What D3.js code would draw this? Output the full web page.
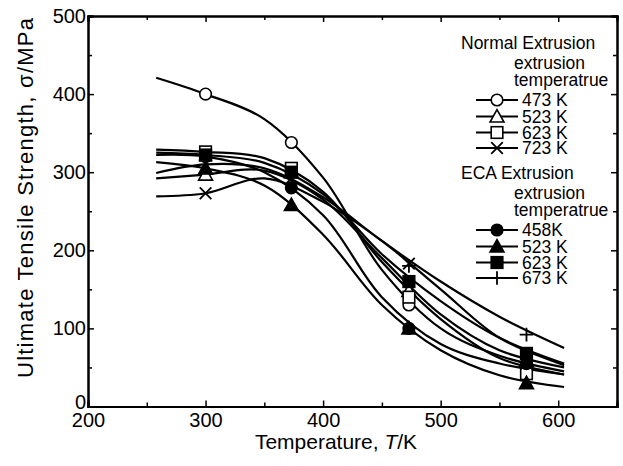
<!DOCTYPE html>
<html>
<head>
<meta charset="utf-8">
<script src="https://cdn.jsdelivr.net/npm/d3@7"></script>
<style>
  body { margin: 0; background: #fff; }
  text { font-family: "Liberation Sans", Arial, Helvetica, sans-serif; fill: #000; }
</style>
</head>
<body>
<svg id="chart" width="623" height="466"></svg>
<script>
// measured temperatures (K)
const temps = [300, 373, 473, 573];
const fitTemps = [258, 300, 350, 400, 450, 500, 550, 605];

// Normal extrusion, measured UTS (MPa)
const normal473 = [400, 338, 130, 55];
const normal523 = [297, 300, 148, 58];
const normal623 = [326, 305, 140, 42];
const normal723 = [273, 292, 183, 55];
// ECA extrusion, measured UTS (MPa)
const eca458 = [320, 280, 100, 55];
const eca523 = [305, 258, 100, 30];
const eca623 = [322, 300, 160, 68];
const eca673 = [315, 295, 180, 92];

// fitted curves
const normal473Fit = [421, 400, 368, 293, 175, 100, 65, 45];
const normal523Fit = [292, 297, 302, 265, 190, 118, 72, 50];
const normal623Fit = [329, 326, 318, 275, 185, 112, 62, 41];
const normal723Fit = [269, 273, 292, 262, 212, 150, 88, 53];
const eca458Fit = [322, 320, 300, 245, 140, 80, 55, 41];
const eca523Fit = [313, 305, 283, 220, 130, 72, 40, 25];
const eca623Fit = [325, 322, 312, 272, 195, 135, 88, 55];
const eca673Fit = [299, 310, 305, 268, 212, 160, 115, 75];

const labels = ["473 K", "523 K", "623 K", "723 K", "458K", "523 K", "623 K", "673 K"];
const xTicks = [200, 300, 400, 500, 600];
const yTicks = [0, 100, 200, 300, 400, 500];

const series = [
  {vals: normal473, fit: normal473Fit, sym: "circle", fill: false},
  {vals: normal523, fit: normal523Fit, sym: "triangle", fill: false},
  {vals: normal623, fit: normal623Fit, sym: "square", fill: false},
  {vals: normal723, fit: normal723Fit, sym: "cross", fill: false},
  {vals: eca458, fit: eca458Fit, sym: "circle", fill: true},
  {vals: eca523, fit: eca523Fit, sym: "triangle", fill: true},
  {vals: eca623, fit: eca623Fit, sym: "square", fill: true},
  {vals: eca673, fit: eca673Fit, sym: "plus", fill: true}
];

const svg = d3.select("#chart");
const x = d3.scaleLinear().domain([200, 650]).range([88, 617]);
const y = d3.scaleLinear().domain([0, 500]).range([406.5, 16]);

// curves
const line = d3.line()
  .x(d => x(d[0]))
  .y(d => y(d[1]))
  .curve(d3.curveCatmullRom.alpha(0.5));

svg.append("g").selectAll("path")
  .data(series)
  .join("path")
  .attr("d", s => line(fitTemps.map((t, i) => [t, s.fit[i]])))
  .attr("fill", "none")
  .attr("stroke", "#000")
  .attr("stroke-width", 2.2);

// marker drawing
function drawMarker(g, sym, filled, cx, cy) {
  const r = 5.8;
  if (sym === "circle") {
    g.append("circle").attr("cx", cx).attr("cy", cy).attr("r", r)
      .attr("fill", filled ? "#000" : "#fff").attr("stroke", "#000").attr("stroke-width", 1.6);
  } else if (sym === "square") {
    g.append("rect").attr("x", cx - r).attr("y", cy - r).attr("width", 2 * r).attr("height", 2 * r)
      .attr("fill", filled ? "#000" : "#fff").attr("stroke", "#000").attr("stroke-width", 1.6);
  } else if (sym === "triangle") {
    const h = r * 1.2;
    g.append("path")
      .attr("d", `M${cx},${cy - h}L${cx + h},${cy + h * 0.8}L${cx - h},${cy + h * 0.8}Z`)
      .attr("fill", filled ? "#000" : "#fff").attr("stroke", "#000").attr("stroke-width", 1.6);
  } else if (sym === "cross") {
    g.append("path")
      .attr("d", `M${cx - r},${cy - r}L${cx + r},${cy + r}M${cx - r},${cy + r}L${cx + r},${cy - r}`)
      .attr("stroke", "#000").attr("stroke-width", 1.8);
  } else if (sym === "plus") {
    g.append("path")
      .attr("d", `M${cx - r - 1},${cy}L${cx + r + 1},${cy}M${cx},${cy - r - 1}L${cx},${cy + r + 1}`)
      .attr("stroke", "#000").attr("stroke-width", 1.8);
  }
}

const markers = svg.append("g");
series.forEach(s => {
  s.vals.forEach((v, i) => drawMarker(markers, s.sym, s.fill, x(temps[i]), y(v)));
});

// axes: ticks point inward on all four sides
const minorX = d3.range(250, 650, 100);
const minorY = d3.range(50, 500, 100);

const axBottom = svg.append("g").attr("transform", `translate(0,${y(0)})`)
  .call(d3.axisBottom(x).tickValues(xTicks).tickSize(-6).tickPadding(6));
axBottom.append("g").call(d3.axisBottom(x).tickValues(minorX).tickSize(-4).tickFormat(""));
const axTop = svg.append("g").attr("transform", `translate(0,${y(500)})`)
  .call(d3.axisTop(x).tickValues(xTicks).tickSize(-6).tickFormat(""));
axTop.append("g").call(d3.axisTop(x).tickValues(minorX).tickSize(-4).tickFormat(""));
const axLeft = svg.append("g").attr("transform", `translate(${x(200)},0)`)
  .call(d3.axisLeft(y).tickValues(yTicks).tickSize(-6).tickPadding(2));
axLeft.append("g").call(d3.axisLeft(y).tickValues(minorY).tickSize(-4).tickFormat(""));
const axRight = svg.append("g").attr("transform", `translate(${x(650)},0)`)
  .call(d3.axisRight(y).tickValues(yTicks).tickSize(-6).tickFormat(""));
axRight.append("g").call(d3.axisRight(y).tickValues(minorY).tickSize(-4).tickFormat(""));

svg.selectAll(".domain").attr("stroke-width", 2).attr("stroke", "#000");
svg.selectAll(".tick line").attr("stroke-width", 1.5).attr("stroke", "#000");
svg.selectAll(".tick text").attr("font-size", 20).attr("font-family", "Liberation Sans, Arial, sans-serif").attr("fill", "#000");
// the "0" label sits just above the "200" label, as in the original
axLeft.selectAll(".tick text").filter(d => d === 0).attr("dy", "0.1em");

// axis titles
svg.append("text")
  .attr("x", 336).attr("y", 449)
  .attr("text-anchor", "middle").attr("font-size", 21)
  .html('Temperature, <tspan font-style="italic">T</tspan>/K');

svg.append("text")
  .attr("transform", `translate(33,198) rotate(-90)`)
  .attr("text-anchor", "middle").attr("font-size", 22)
  .attr("textLength", 360).attr("lengthAdjust", "spacing")
  .text("Ultimate Tensile Strength, σ/MPa");

// legend
const leg = svg.append("g");
const legFont = 17.5;
function legHeader(txt, xx, yy) {
  leg.append("text").attr("x", xx).attr("y", yy).attr("dy", "0.35em")
    .attr("font-size", legFont).text(txt);
}
legHeader("Normal Extrusion", 461, 43);
legHeader("extrusion", 514, 63);
legHeader("temperatrue", 514, 80);
legHeader("ECA Extrusion", 461, 173);
legHeader("extrusion", 514, 193);
legHeader("temperatrue", 514, 210);

const legRows = [100, 116.5, 132.5, 148, 230, 246.5, 262.5, 278];
series.forEach((s, i) => {
  const yy = legRows[i];
  leg.append("line").attr("x1", 476).attr("x2", 518).attr("y1", yy).attr("y2", yy)
    .attr("stroke", "#000").attr("stroke-width", 1.8);
  drawMarker(leg, s.sym, s.fill, 497, yy);
  leg.append("text").attr("x", 522).attr("y", yy).attr("dy", "0.35em")
    .attr("font-size", legFont).text(labels[i]);
});
</script>
</body>
</html>
